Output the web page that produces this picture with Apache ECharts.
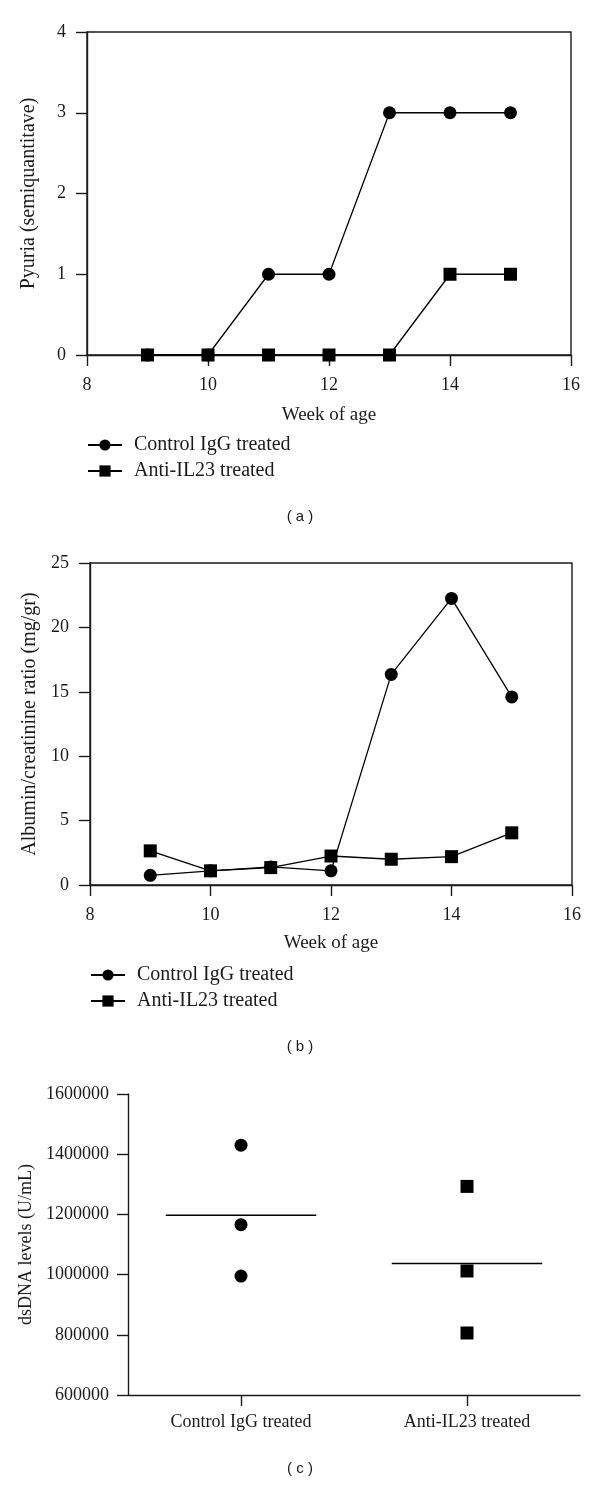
<!DOCTYPE html>
<html>
<head>
<meta charset="utf-8">
<script src="https://cdn.jsdelivr.net/npm/echarts@6/dist/echarts.min.js"></script>
<style>
html,body{margin:0;padding:0;background:#fff;}
#chart{width:600px;height:1486px;}
</style>
</head>
<body>
<div id="chart"></div>
<script>
// ---- Data ----
var weeks = [9, 10, 11, 12, 13, 14, 15];
var seriesNames = ['Control IgG treated', 'Anti-IL23 treated'];
// Panel (a): Pyuria (semiquantitative)
var pyuriaControl = [0, 0, 1, 1, 3, 3, 3];
var pyuriaAnti = [0, 0, 0, 0, 0, 1, 1];
// Panel (b): Albumin/creatinine ratio (mg/gr)
var albControl = [0.75, 1.1, 1.4, 1.1, 16.35, 22.25, 14.6];
var albAnti = [2.65, 1.1, 1.35, 2.25, 2.0, 2.2, 4.05];
// Panel (c): dsDNA levels (U/mL)
var groups = ['Control IgG treated', 'Anti-IL23 treated'];
var dsControl = [1430000, 1166000, 995000];
var dsAnti = [1293000, 1012000, 806000];
var dsMean = [1197000, 1037000];
// Tick settings
var weekTicks = {min: 8, max: 16, interval: 2};
var pyuriaTicks = {min: 0, max: 4, interval: 1};
var albTicks = {min: 0, max: 25, interval: 5};
var dsTicks = {min: 600000, max: 1600000, interval: 200000};

var SERIF = "'Liberation Serif', 'Times New Roman', serif";
var SANS = "'Liberation Sans', Arial, sans-serif";
var INK = '#1a1a1a';

function pairs(xs, ys) { return xs.map(function (x, i) { return [x, ys[i]]; }); }

function valAxis(gi, ticks, extra) {
  var o = {
    type: 'value', gridIndex: gi,
    min: ticks.min, max: ticks.max, interval: ticks.interval,
    splitLine: {show: false},
    axisLine: {show: true, onZero: false, lineStyle: {color: INK, width: 1.4}},
    axisTick: {show: true, length: 11, lineStyle: {color: INK, width: 1.4}},
    axisLabel: {color: INK, fontFamily: SERIF, fontSize: 18, margin: 21,
      formatter: function (v) { return String(v); }},
    nameTextStyle: {color: INK, fontFamily: SERIF, fontSize: 20}
  };
  for (var k in extra) o[k] = extra[k];
  return o;
}

function lineSeries(name, gi, ys, symbol, z) {
  return {
    type: 'line', name: name, xAxisIndex: gi, yAxisIndex: gi,
    data: pairs(weeks, ys),
    symbol: symbol, symbolSize: 13, showSymbol: true,
    lineStyle: {color: '#000', width: 1.3},
    itemStyle: {color: '#000', opacity: 1},
    z: z, animation: false
  };
}

function legendAt(left, top) {
  return {
    orient: 'vertical', left: left, top: top, padding: 0,
    data: seriesNames, itemWidth: 34, itemHeight: 14, itemGap: 6,
    selectedMode: false,
    textStyle: {color: INK, fontFamily: SERIF, fontSize: 20, padding: [0, 0, 0, 7]}
  };
}

var scatterData = [];
dsControl.forEach(function (v) { scatterData.push({value: [0, v], symbol: 'circle'}); });
dsAnti.forEach(function (v) { scatterData.push({value: [1, v], symbol: 'rect'}); });

var option = {
  backgroundColor: '#fff',
  animation: false,
  grid: [
    {left: 87, top: 32, width: 484, height: 323, show: true, borderColor: INK, borderWidth: 1.4, backgroundColor: 'transparent'},
    {left: 90, top: 563, width: 482, height: 322, show: true, borderColor: INK, borderWidth: 1.4, backgroundColor: 'transparent'},
    {left: 128, top: 1094, width: 452, height: 301}
  ],
  legend: [legendAt(87, 435), legendAt(90, 965)],
  xAxis: [
    valAxis(0, weekTicks, {name: 'Week of age', nameLocation: 'middle', nameGap: 51,
      nameTextStyle: {color: INK, fontFamily: SERIF, fontSize: 19}}),
    valAxis(1, weekTicks, {name: 'Week of age', nameLocation: 'middle', nameGap: 49,
      nameTextStyle: {color: INK, fontFamily: SERIF, fontSize: 19}}),
    {
      type: 'category', gridIndex: 2, data: groups, boundaryGap: true,
      axisLine: {show: true, lineStyle: {color: INK, width: 1.4}},
      axisTick: {show: true, alignWithLabel: true, length: 11, lineStyle: {color: INK, width: 1.4}},
      axisLabel: {color: INK, fontFamily: SERIF, fontSize: 18, margin: 18},
      splitLine: {show: false}
    }
  ],
  yAxis: [
    valAxis(0, pyuriaTicks, {name: 'Pyuria (semiquantitave)', nameLocation: 'middle', nameGap: 48}),
    valAxis(1, albTicks, {name: 'Albumin/creatinine ratio (mg/gr)', nameLocation: 'middle', nameGap: 50}),
    valAxis(2, dsTicks, {name: 'dsDNA levels (U/mL)', nameLocation: 'middle', nameGap: 89,
      axisLabel: {color: INK, fontFamily: SERIF, fontSize: 18, margin: 19, formatter: function (v) { return String(v); }},
      nameTextStyle: {color: INK, fontFamily: SERIF, fontSize: 18}})
  ],
  series: [
    lineSeries(seriesNames[0], 0, pyuriaControl, 'circle', 3),
    lineSeries(seriesNames[1], 0, pyuriaAnti, 'rect', 4),
    lineSeries(seriesNames[0], 1, albControl, 'circle', 3),
    lineSeries(seriesNames[1], 1, albAnti, 'rect', 4),
    {
      type: 'scatter', xAxisIndex: 2, yAxisIndex: 2,
      data: scatterData, symbolSize: 13,
      itemStyle: {color: '#000', opacity: 1}, z: 4
    },
    {
      type: 'custom', xAxisIndex: 2, yAxisIndex: 2,
      data: dsMean.map(function (m, i) { return [i, m]; }),
      renderItem: function (params, api) {
        var c = api.coord([api.value(0), api.value(1)]);
        var half = api.size([1, 0])[0] * 0.333;
        return {
          type: 'line',
          shape: {x1: c[0] - half, y1: c[1], x2: c[0] + half, y2: c[1]},
          style: {stroke: '#000', lineWidth: 1.4}
        };
      },
      z: 3
    }
  ],
  graphic: [
    {type: 'text', left: 'center', top: 509, style: {text: '( a )', font: '15px ' + SANS, fill: INK}},
    {type: 'text', left: 'center', top: 1039, style: {text: '( b )', font: '15px ' + SANS, fill: INK}},
    {type: 'text', left: 'center', top: 1461, style: {text: '( c )', font: '15px ' + SANS, fill: INK}}
  ]
};

var chart = echarts.init(document.getElementById('chart'), null, {renderer: 'canvas'});
chart.setOption(option);
</script>
</body>
</html>
